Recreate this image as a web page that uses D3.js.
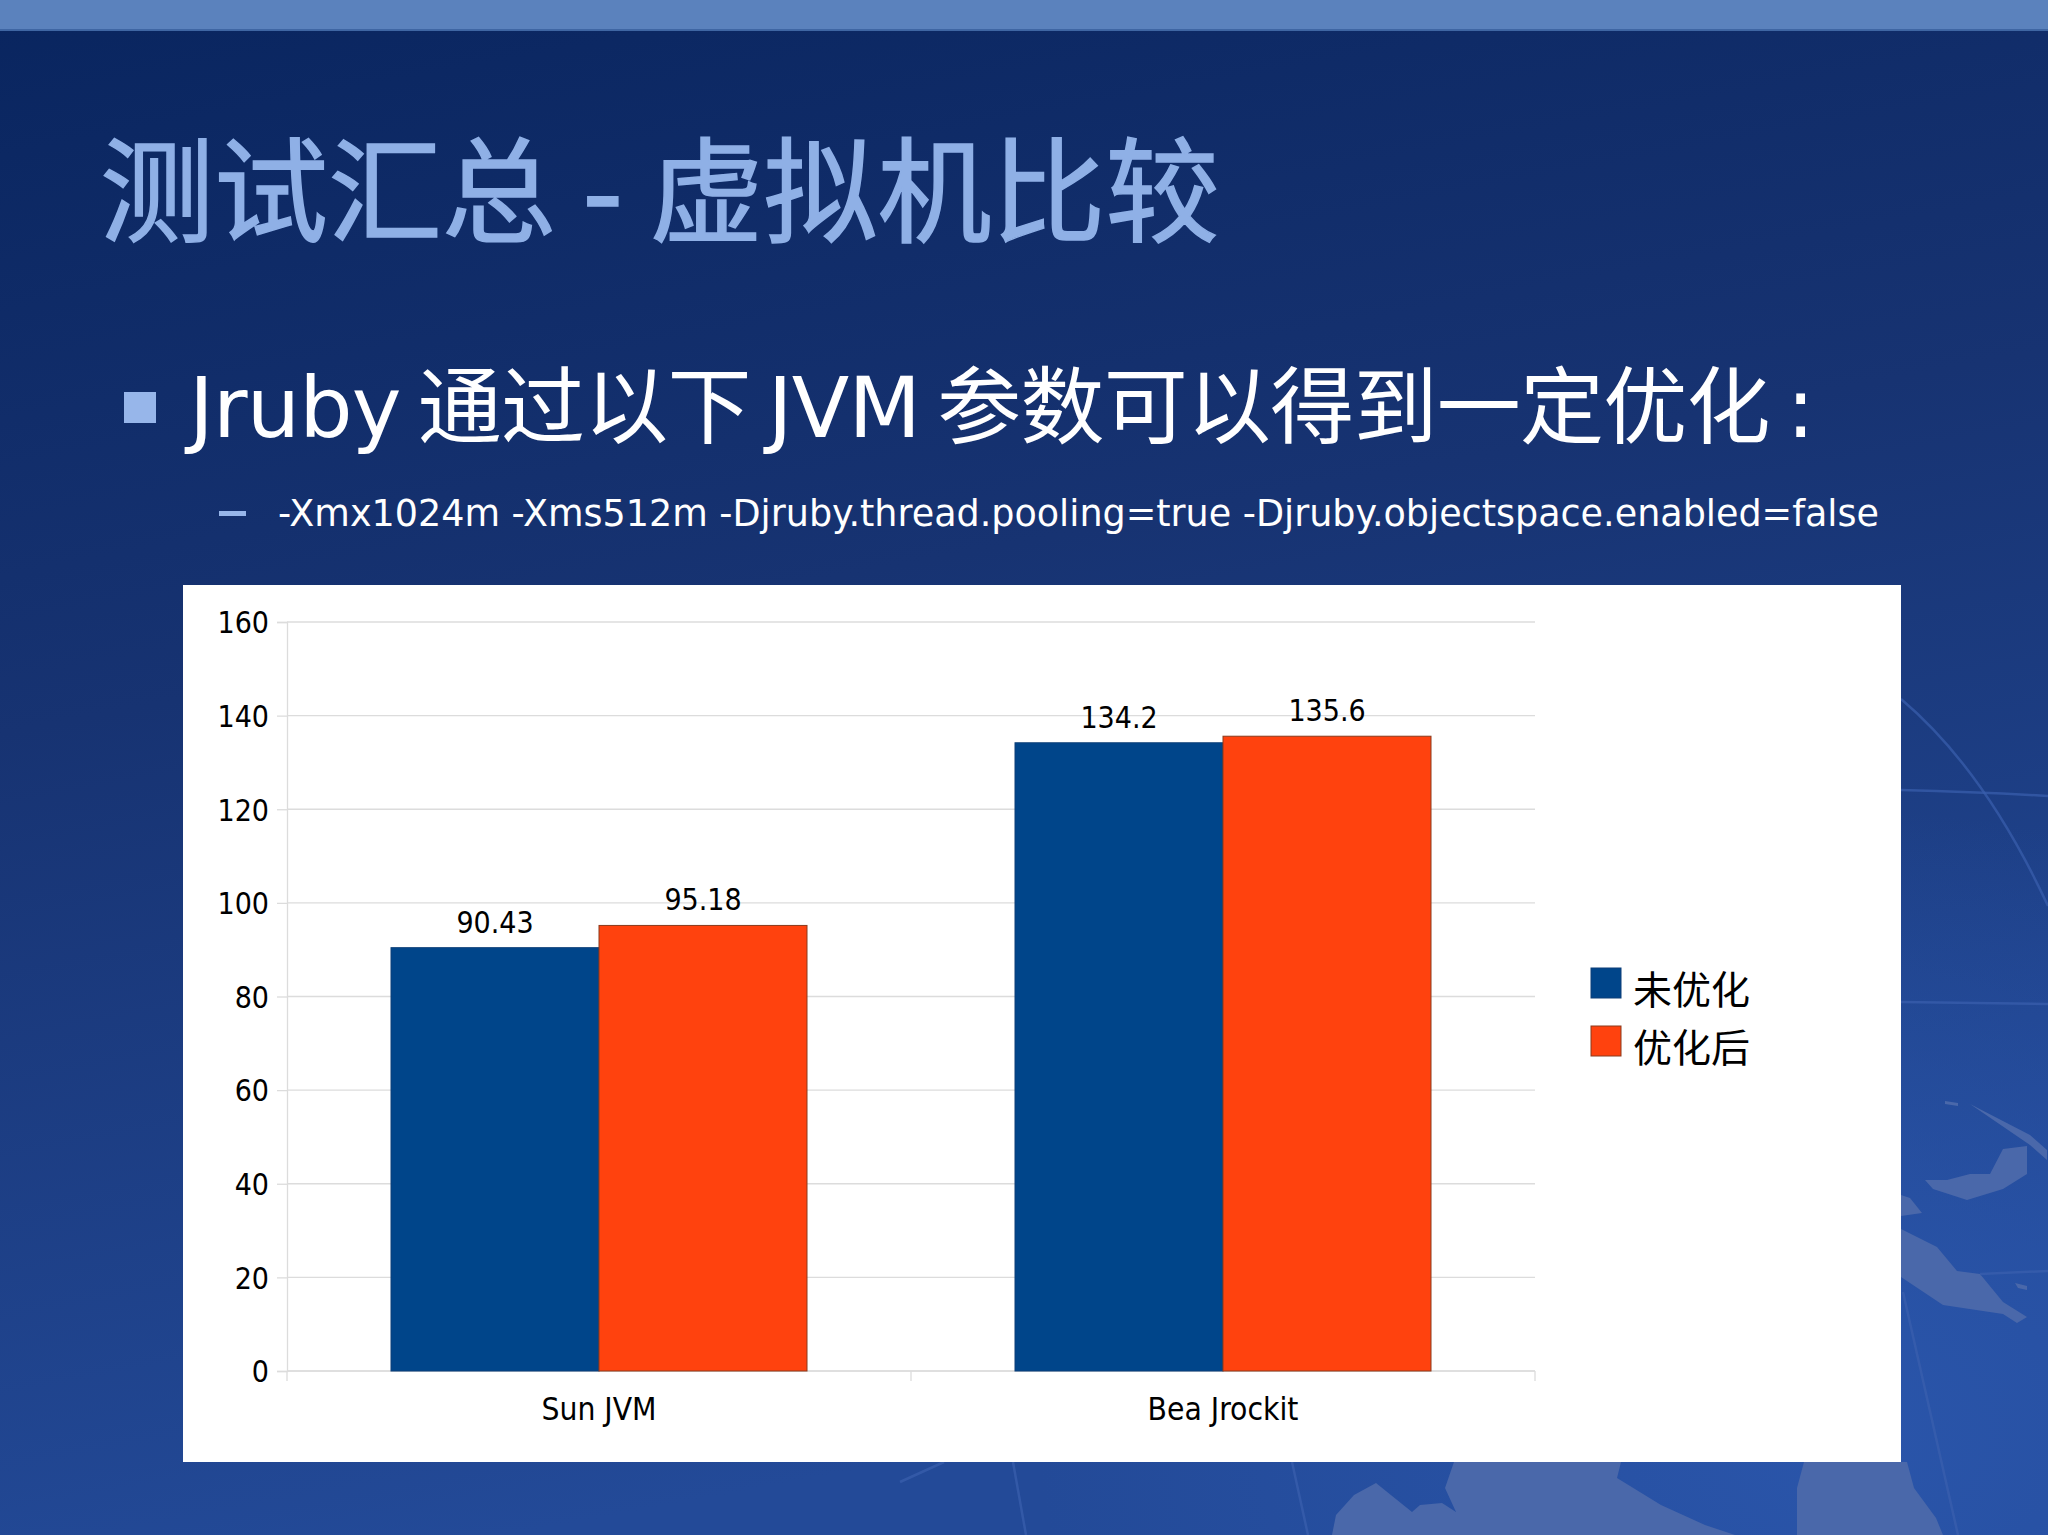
<!DOCTYPE html>
<html>
<head>
<meta charset="utf-8">
<script src="https://cdn.jsdelivr.net/npm/d3@7"></script>
<style>
  html, body { margin: 0; padding: 0; background: #0b2761; }
  svg { display: block; }
  text { font-family: "DejaVu Sans", "Noto Sans CJK SC", sans-serif; }
  .chart-label { font-family: "DejaVu Sans Condensed", "DejaVu Sans", sans-serif; font-stretch: condensed; }
</style>
</head>
<body>
<svg id="slide" width="2048" height="1535"></svg>
<script>
const categories = ["Sun JVM", "Bea Jrockit"];
const seriesNames = ["未优化", "优化后"];
const seriesColors = ["#00458a", "#ff420e"];
const seriesEdges = ["#0d3f78", "#8a3a1c"];
const unoptimized = [90.43, 134.2];
const optimized = [95.18, 135.6];
const valueLabels = [["90.43", "134.2"], ["95.18", "135.6"]];
const yTicks = [0, 20, 40, 60, 80, 100, 120, 140, 160];

const titleText = "测试汇总 - 虚拟机比较";
const bulletText = "Jruby 通过以下 JVM 参数可以得到一定优化 :";
const subBulletText = "-Xmx1024m -Xms512m -Djruby.thread.pooling=true -Djruby.objectspace.enabled=false";

const svg = d3.select("#slide");
const defs = svg.append("defs");

// slide background
const bg = defs.append("linearGradient").attr("id", "bg")
  .attr("x1", 0).attr("y1", 0).attr("x2", 0.25).attr("y2", 1);
bg.append("stop").attr("offset", "0%").attr("stop-color", "#09255f");
bg.append("stop").attr("offset", "45%").attr("stop-color", "#173372");
bg.append("stop").attr("offset", "100%").attr("stop-color", "#234a98");
svg.append("rect").attr("width", 2048).attr("height", 1535).attr("fill", "url(#bg)");

const glow = defs.append("radialGradient").attr("id", "glow")
  .attr("cx", 0.85).attr("cy", 0.9).attr("r", 0.6);
glow.append("stop").attr("offset", "0%").attr("stop-color", "#2a55aa").attr("stop-opacity", 1);
glow.append("stop").attr("offset", "100%").attr("stop-color", "#2a55aa").attr("stop-opacity", 0);
svg.append("rect").attr("x", 700).attr("y", 500).attr("width", 1348).attr("height", 1035).attr("fill", "url(#glow)");

// faint globe continents and meridians behind the panel
const land = svg.append("g").attr("fill", "#4a68aa");
[
  "M1925,1180 L1947,1180 L1970,1174 L1990,1174 L2003,1149 L2027,1146 L2027,1174 L2003,1189 L1967,1200 L1933,1189 Z",
  "M1945,1101 L1958,1103 L1958,1106 L1945,1104 Z",
  "M1970,1104 L2030,1135 L2047,1150 L2047,1160 L2030,1145 Z",
  "M1901,1195 L1910,1198 L1922,1213 L1901,1216 Z",
  "M1901,1229 L1937,1247 L1957,1271 L1980,1274 L2003,1302 L2027,1317 L2017,1323 L2003,1314 L1943,1305 L1901,1277 Z",
  "M2015,1283 L2027,1286 L2027,1290 L2018,1288 Z",
  "M1376,1483 L1354,1495 L1336,1515 L1332,1535 L1735,1535 L1705,1525 L1661,1505 L1617,1478 L1621,1462 L1454,1462 L1445,1488 L1456,1512 L1442,1503 L1420,1505 L1412,1512 Z",
  "M1804,1462 L1797,1488 L1797,1535 L1943,1535 L1936,1518 L1914,1488 L1907,1462 Z"
].forEach(d => land.append("path").attr("d", d));

const meridians = svg.append("g").attr("fill", "none").attr("stroke", "#3a60ae")
  .attr("stroke-width", 2.5).attr("stroke-opacity", 0.7);
[
  "M1901,790 Q1980,792 2048,796",
  "M1901,1002 L2048,1004",
  "M1980,1274 L2048,1271",
  "M1903,1292 L1958,1535",
  "M1901,699 Q1985,770 2048,906",
  "M1013,1462 L1026,1535",
  "M1292,1462 L1308,1535",
  "M900,1482 L944,1462"
].forEach(d => meridians.append("path").attr("d", d));

// top band
svg.append("rect").attr("width", 2048).attr("height", 30).attr("fill", "#5b82bd");
svg.append("rect").attr("y", 29).attr("width", 2048).attr("height", 2).attr("fill", "#3f66a3");

// slide text
svg.append("text").attr("x", 100).attr("y", 233)
  .attr("font-size", 114).attr("fill", "#8fb0e6")
  .attr("stroke", "#8fb0e6").attr("stroke-width", 1.5)
  .attr("word-spacing", -10).text(titleText);

svg.append("rect").attr("x", 124).attr("y", 392).attr("width", 32).attr("height", 31).attr("fill", "#97b6ea");
svg.append("text").attr("x", 189).attr("y", 437)
  .attr("font-size", 84).attr("fill", "#ffffff")
  .attr("word-spacing", -9).attr("letter-spacing", -0.75).text(bulletText);

svg.append("rect").attr("x", 219).attr("y", 511).attr("width", 27).attr("height", 5).attr("fill", "#97b6ea");
svg.append("text").attr("x", 278).attr("y", 526)
  .attr("font-size", 38).attr("fill", "#ffffff").attr("textLength", 1601)
  .attr("lengthAdjust", "spacingAndGlyphs").text(subBulletText);

// chart panel
svg.append("rect").attr("x", 183).attr("y", 585).attr("width", 1718).attr("height", 877).attr("fill", "#ffffff");

const plotLeft = 287, plotRight = 1535, plotTop = 622, plotBottom = 1371;
const gridColor = "#dcdcdc";

const xCat = d3.scaleBand().domain(categories).range([plotLeft, plotRight])
  .paddingInner(1 / 3).paddingOuter(1 / 6);
const xSeries = d3.scaleBand().domain(d3.range(seriesNames.length)).range([0, xCat.bandwidth()]);
const y = d3.scaleLinear().domain([0, 160]).range([plotBottom, plotTop]);

// gridlines
svg.append("g").selectAll("line").data(yTicks).join("line")
  .attr("x1", plotLeft).attr("x2", plotRight)
  .attr("y1", d => y(d)).attr("y2", d => y(d))
  .attr("stroke", gridColor).attr("stroke-width", 1.3);

// y axis
const yAxis = svg.append("g").attr("transform", `translate(${plotLeft},0)`)
  .call(d3.axisLeft(y).tickValues(yTicks).tickSize(10).tickPadding(8));
yAxis.selectAll("path, line").attr("stroke", gridColor).attr("stroke-width", 1.3);
yAxis.selectAll("text").attr("class", "chart-label").attr("font-family", null)
  .attr("font-size", 30).attr("fill", "#000000").attr("dy", "0.36em");

// x axis: ticks sit between the categories
const xAxisG = svg.append("g");
xAxisG.append("line").attr("x1", plotLeft).attr("x2", plotRight)
  .attr("y1", plotBottom).attr("y2", plotBottom)
  .attr("stroke", gridColor).attr("stroke-width", 1.3);
const categoryStep = xCat.step();
xAxisG.selectAll(".cat-tick").data(d3.range(categories.length + 1)).join("line")
  .attr("class", "cat-tick")
  .attr("x1", i => plotLeft + i * categoryStep).attr("x2", i => plotLeft + i * categoryStep)
  .attr("y1", plotBottom).attr("y2", plotBottom + 10)
  .attr("stroke", gridColor).attr("stroke-width", 1.3);
xAxisG.selectAll(".cat-label").data(categories).join("text")
  .attr("class", "cat-label chart-label")
  .attr("x", d => xCat(d) + xCat.bandwidth() / 2).attr("y", plotBottom + 49)
  .attr("text-anchor", "middle").attr("font-size", 31.5).attr("fill", "#000000").text(d => d);

// bars and value labels
const seriesValues = [unoptimized, optimized];
seriesValues.forEach((vals, s) => {
  const g = svg.append("g");
  g.selectAll("rect").data(vals).join("rect")
    .attr("x", (d, i) => xCat(categories[i]) + xSeries(s))
    .attr("y", d => y(d))
    .attr("width", xSeries.bandwidth())
    .attr("height", d => y(0) - y(d))
    .attr("fill", seriesColors[s])
    .attr("stroke", seriesEdges[s])
    .attr("stroke-width", 1);
  g.selectAll("text").data(vals).join("text")
    .attr("class", "chart-label")
    .attr("x", (d, i) => xCat(categories[i]) + xSeries(s) + xSeries.bandwidth() / 2)
    .attr("y", d => y(d) - 15)
    .attr("text-anchor", "middle").attr("font-size", 30).attr("fill", "#000000")
    .text((d, i) => valueLabels[s][i]);
});

// legend
const legendRow = d3.scalePoint().domain(seriesNames).range([968, 1026]);
const legend = svg.append("g").selectAll("g").data(seriesNames).join("g")
  .attr("transform", d => `translate(1591,${legendRow(d)})`);
legend.append("rect").attr("width", 30).attr("height", 30)
  .attr("fill", (d, i) => seriesColors[i])
  .attr("stroke", (d, i) => seriesEdges[i]).attr("stroke-width", 1);
legend.append("text").attr("x", 42).attr("y", 36)
  .attr("font-size", 39).attr("fill", "#000000").text(d => d);
</script>
</body>
</html>
